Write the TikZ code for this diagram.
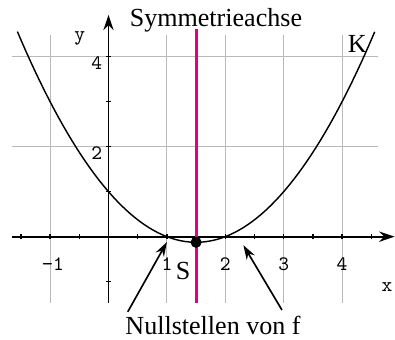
\documentclass[tikz,border=0pt]{standalone}
\usepackage{fontspec}
\setmainfont{Liberation Serif}
\usepackage{tikz}
\usetikzlibrary{calc, arrows.meta}
\definecolor{achsenfarbe}{RGB}{230,0,126}

\begin{document}
\begin{tikzpicture}[x=1cm, y=0.7705cm]
    \useasboundingbox (-1.858,-2.296) rectangle (4.906,5.26);

    \coordinate (O) at (0,0);
    \coordinate (XL) at (-1.65,0);
    \coordinate (XR) at (4.9,0);
    \coordinate (YU) at (0,-1.47);
    \coordinate (YO) at (0,4.93);
    \coordinate (S) at (1.5,-0.125);
    \coordinate (SU) at (1.5,-1.47);
    \coordinate (SO) at (1.5,4.62);
    \coordinate (P1) at (1.0,-0.12);
    \coordinate (P2) at (2.31,-0.19);
    \coordinate (Q1) at (0.33,-1.67);
    \coordinate (Q2) at (2.97,-1.63);

    % grid
    \draw[gray!55, line width=0.5pt] (-1,-1.47) -- (-1,4.48) (1,-1.47) -- (1,4.48)
        (2,-1.47) -- (2,4.48) (3,-1.47) -- (3,4.48) (4,-1.47) -- (4,4.48)
        (-1.65,2) -- (4.61,2) (-1.65,4) -- (4.61,4);

    % axes
    \draw[line width=0.9pt, -{Stealth[length=7.5pt, width=5pt]}] (XL) -- (XR);
    \draw[line width=0.9pt, -{Stealth[length=7.5pt, width=5pt]}] (YU) -- (YO);

    \draw[line width=0.6pt] (-1.5,0) ++(0,-1.3pt) -- ++(0,2.6pt)
        (-1,0) ++(0,-1.3pt) -- ++(0,2.6pt) (-0.5,0) ++(0,-1.3pt) -- ++(0,2.6pt)
        (0.5,0) ++(0,-1.3pt) -- ++(0,2.6pt) (1,0) ++(0,-1.3pt) -- ++(0,2.6pt)
        (1.5,0) ++(0,-1.3pt) -- ++(0,2.6pt) (2,0) ++(0,-1.3pt) -- ++(0,2.6pt)
        (2.5,0) ++(0,-1.3pt) -- ++(0,2.6pt) (3,0) ++(0,-1.3pt) -- ++(0,2.6pt)
        (3.5,0) ++(0,-1.3pt) -- ++(0,2.6pt) (4,0) ++(0,-1.3pt) -- ++(0,2.6pt)
        (4.5,0) ++(0,-1.3pt) -- ++(0,2.6pt);
    \draw[line width=0.6pt] (0,-1) ++(-1.3pt,0) -- ++(2.6pt,0)
        (0,1) ++(-1.3pt,0) -- ++(2.6pt,0) (0,2) ++(-1.3pt,0) -- ++(2.6pt,0)
        (0,3) ++(-1.3pt,0) -- ++(2.6pt,0) (0,4) ++(-1.3pt,0) -- ++(2.6pt,0);

    \node[anchor=north, inner sep=0pt, font=\ttfamily] (lm1) at (-0.95,-0.45) {\textminus1};
    \node[anchor=north, inner sep=0pt, font=\ttfamily] (l1) at (1,-0.45) {1};
    \node[anchor=north, inner sep=0pt, font=\ttfamily] (l2) at (2,-0.45) {2};
    \node[anchor=north, inner sep=0pt, font=\ttfamily] (l3) at (3,-0.45) {3};
    \node[anchor=north, inner sep=0pt, font=\ttfamily] (l4) at (4,-0.45) {4};
    \node[anchor=north east, inner sep=0pt, font=\ttfamily] (ly2) at (-0.1,2) {2};
    \node[anchor=north east, inner sep=0pt, font=\ttfamily] (ly4) at (-0.1,4) {4};
    \node[font=\ttfamily] (ylab) at (-0.49,4.41) {y};
    \node[font=\ttfamily] (xlab) at (4.77,-1.13) {x};

    % parabola
    \draw[line width=0.7pt] plot[domain=-1.56:4.56, samples=80] (\x, {0.5*(\x-1)*(\x-2)});

    % symmetry axis
    \draw[achsenfarbe, line width=1.4pt] (SU) -- (SO);
    \fill (S) circle (2.7pt);

    \node[font=\fontsize{12.7}{15}\selectfont] (sym) at (1.84,4.82) {Symmetrieachse};
    \node[font=\fontsize{12.7}{15}\selectfont] (K) at (4.26,4.28) {K};
    \node[font=\fontsize{12.7}{15}\selectfont] (Slab) at (1.28,-0.77) {S};
    \node[font=\fontsize{12.7}{15}\selectfont] (nst) at (1.79,-1.97) {Nullstellen von f};

    \draw[line width=0.8pt, -{Stealth[length=7pt, width=4.5pt]}] (Q1) -- (P1);
    \draw[line width=0.8pt, -{Stealth[length=7pt, width=4.5pt]}] (Q2) -- (P2);
\end{tikzpicture}
\end{document}
